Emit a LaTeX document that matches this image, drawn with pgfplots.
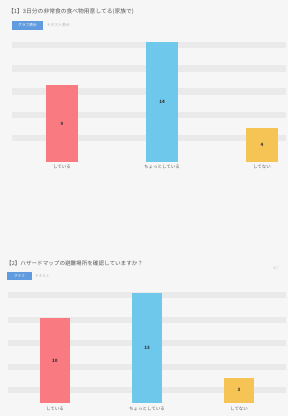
\documentclass[border=0pt]{standalone}
\usepackage{pgfplots}
\pgfplotsset{compat=1.18}
\usepackage{fontspec}
\newfontfamily\jp{Noto Sans CJK JP}
\definecolor{barred}{RGB}{250,122,130}
\definecolor{barblue}{RGB}{110,200,235}
\definecolor{baryellow}{RGB}{245,196,85}
\definecolor{btnblue}{RGB}{95,155,222}
\definecolor{bg}{RGB}{246,246,246}
\definecolor{band}{RGB}{234,234,234}
\pgfplotsset{
  mybars/.style={
    scale only axis, anchor=south west,
    ymin=0, ymax=15,
    axis line style={draw=none},
    tick style={draw=none},
    yticklabels={},
    ymajorgrids, grid style={band, line width=6.5bp},
    xtick={0,1,2},
    xticklabels={している,ちょっとしている,してない},
    xticklabel style={font=\jp\fontsize{4.5}{5}\selectfont, text=gray!75!black},
    clip=false,
  },
  vals/.style={only marks, mark=none, nodes near coords, point meta=explicit symbolic,
    nodes near coords style={anchor=center, font=\jp\bfseries\fontsize{4.5}{5}\selectfont, text=black!80}},
}
\begin{document}
\begin{tikzpicture}[x=1bp,y=1bp]
\fill[bg] (0,0) rectangle (288,416);
\useasboundingbox (0,0) rectangle (288,416);
% ---------- chart 1 ----------
\node[anchor=west, inner sep=0, text=gray!70!black] at (8,404) {\jp\fontsize{5.8}{6}\selectfont 【1】3日分の非常食の食べ物用意してる(家族で)};
\fill[btnblue] (12,386) rectangle (43,395);
\node[text=white, inner sep=0] at (27.5,390.5) {\jp\fontsize{3.8}{4}\selectfont グラフ表示};
\node[anchor=west, inner sep=0, text=gray!60] at (47,390.5) {\jp\fontsize{3.8}{4}\selectfont テキスト表示};
\begin{axis}[mybars, at={(12bp,254bp)}, width=274bp, height=128.6bp,
  xmin=-0.5, xmax=2.24,
  ytick={2.8,5.5,8.2,10.9,13.65},
  xticklabel style={yshift=1bp}]
\addplot[ybar, bar width=32bp, bar shift=0pt, fill=barred, draw=none] coordinates {(0,9)};
\addplot[ybar, bar width=32bp, bar shift=0pt, fill=barblue, draw=none] coordinates {(1,14)};
\addplot[ybar, bar width=32bp, bar shift=0pt, fill=baryellow, draw=none] coordinates {(2,4)};
\addplot[vals] coordinates {(0,4.5)[9] (1,7)[14] (2,2)[4]};
\end{axis}
% ---------- chart 2 ----------
\node[anchor=west, inner sep=0, text=gray!70!black] at (6,153) {\jp\fontsize{5.6}{6}\selectfont 【2】ハザードマップの避難場所を確認していますか？};
\fill[btnblue] (7,136) rectangle (32,144);
\node[text=white, inner sep=0] at (19.5,140) {\jp\fontsize{3.6}{4}\selectfont グラフ};
\node[anchor=west, inner sep=0, text=gray!60] at (35,140) {\jp\fontsize{3.6}{4}\selectfont テキスト};
\node[text=gray!50, inner sep=0] at (276,148) {\fontsize{4}{5}\selectfont A↑};
\begin{axis}[mybars, at={(8bp,13bp)}, width=278bp, height=126.9bp,
  xmin=-0.51, xmax=2.51,
  ytick={1.54,4.26,7.09,9.81,12.77}]
\addplot[ybar, bar width=30bp, bar shift=0pt, fill=barred, draw=none] coordinates {(0,10)};
\addplot[ybar, bar width=30bp, bar shift=0pt, fill=barblue, draw=none] coordinates {(1,13)};
\addplot[ybar, bar width=30bp, bar shift=0pt, fill=baryellow, draw=none] coordinates {(2,3)};
\addplot[vals] coordinates {(0,5)[10] (1,6.5)[13] (2,1.5)[3]};
\end{axis}
\end{tikzpicture}
\end{document}
